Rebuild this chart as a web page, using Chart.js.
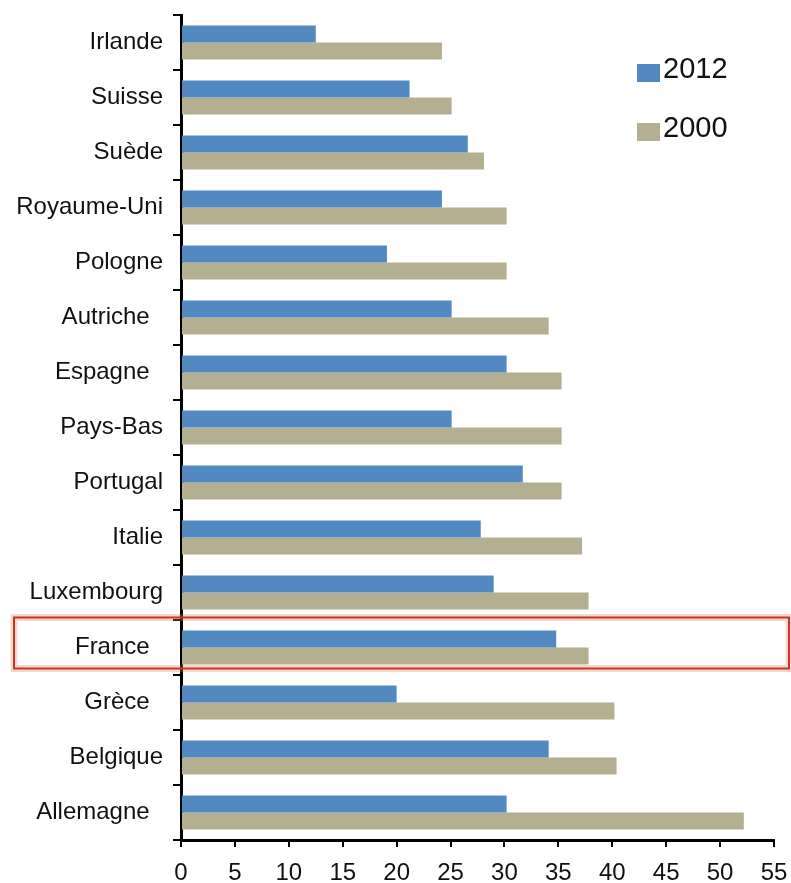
<!DOCTYPE html>
<html>
<head>
<meta charset="utf-8">
<script src="https://cdn.jsdelivr.net/npm/chart.js@4"></script>
<style>
    html, body { margin: 0; padding: 0; background: #fff; }
    #wrap { width: 791px; height: 883px; }
</style>
</head>
<body>
<div id="wrap"><canvas id="mainChart" width="791" height="883"></canvas></div>
<script>
// countries, top to bottom (trailing spaces keep the original label offsets)
const categories = ['Irlande', 'Suisse', 'Suède', 'Royaume-Uni', 'Pologne', 'Autriche  ', 'Espagne  ',
    'Pays-Bas', 'Portugal', 'Italie', 'Luxembourg', 'France  ', 'Grèce  ', 'Belgique', 'Allemagne  '];
const seriesNames = ['2012', '2000'];
const values2012 = [12.5, 21.2, 26.6, 24.2, 19.1, 25.1, 30.2, 25.1, 31.7, 27.8, 29.0, 34.8, 20.0, 34.1, 30.2];
const values2000 = [24.2, 25.1, 28.1, 30.2, 30.2, 34.1, 35.3, 35.3, 35.3, 37.2, 37.8, 37.8, 40.2, 40.4, 52.2];
const xTicks = [0, 5, 10, 15, 20, 25, 30, 35, 40, 45, 50, 55];
const highlighted = 'France  ';

const FONT = '"Liberation Sans", Arial, sans-serif';

// legend drawn inside the plot, top right
const legendPlugin = {
    id: 'cornerLegend',
    afterDraw(chart) {
        const ctx = chart.ctx;
        const area = chart.chartArea;
        ctx.save();
        ctx.font = '29px ' + FONT;
        ctx.textBaseline = 'alphabetic';
        chart.data.datasets.forEach((ds, i) => {
            const x = area.right - 137;
            const y = area.top + 49 + i * 59;
            ctx.fillStyle = ds.backgroundColor;
            ctx.fillRect(x, y, 23, 18);
            ctx.fillStyle = '#111';
            ctx.fillText(ds.label, x + 26, y + 14);
        });
        ctx.restore();
    }
};

// red frame around the highlighted country
const framePlugin = {
    id: 'frame',
    afterDraw(chart) {
        const y = chart.scales.y;
        const idx = categories.indexOf(highlighted);
        const c = y.getPixelForValue(idx);
        const top = c - 30, bottom = c + 21;
        const ctx = chart.ctx;
        ctx.save();
        ctx.lineWidth = 7;
        ctx.strokeStyle = 'rgba(225, 120, 110, 0.3)';
        ctx.strokeRect(14, top, 775, bottom - top);
        ctx.lineWidth = 2;
        ctx.strokeStyle = '#c8361b';
        ctx.strokeRect(14, top, 775, bottom - top);
        ctx.restore();
    }
};

const ctx = document.getElementById('mainChart').getContext('2d');
new Chart(ctx, {
    type: 'bar',
    data: {
        labels: categories,
        datasets: [
            { label: seriesNames[0], data: values2012, backgroundColor: '#5289c1' },
            { label: seriesNames[1], data: values2000, backgroundColor: '#b3af90' }
        ]
    },
    options: {
        indexAxis: 'y',
        responsive: false,
        animation: false,
        layout: { padding: { top: 15, right: 17, left: 0, bottom: 0 } },
        datasets: { bar: { categoryPercentage: 0.62, barPercentage: 1 } },
        plugins: {
            legend: { display: false },
            tooltip: { enabled: false }
        },
        scales: {
            x: {
                min: 0,
                max: 55,
                afterBuildTicks(scale) {
                    scale.ticks = xTicks.map(v => ({ value: v }));
                },
                afterFit(scale) {
                    scale.height = 43;
                    scale.paddingLeft = 0;
                    scale.paddingRight = 0;
                },
                grid: { drawOnChartArea: false, drawTicks: true, tickLength: 7, color: '#000', lineWidth: 2 },
                border: { display: true, color: '#000', width: 3 },
                ticks: { color: '#111', font: { family: FONT, size: 24 }, padding: 12, maxRotation: 0 }
            },
            y: {
                afterFit(scale) {
                    scale.width = 181;
                    scale.paddingTop = 0;
                    scale.paddingBottom = 0;
                },
                grid: { drawOnChartArea: false, drawTicks: true, tickLength: 8, color: '#000', lineWidth: 2 },
                border: { display: true, color: '#000', width: 3 },
                ticks: { color: '#111', font: { family: FONT, size: 24 }, padding: 10, autoSkip: false }
            }
        }
    },
    plugins: [legendPlugin, framePlugin]
});
</script>
</body>
</html>
